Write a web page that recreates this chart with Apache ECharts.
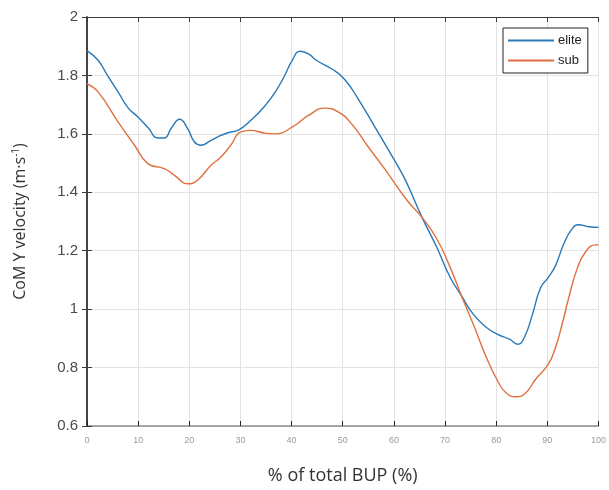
<!DOCTYPE html>
<html><head><meta charset="utf-8">
<script src="https://cdn.jsdelivr.net/npm/echarts@6/dist/echarts.min.js"></script>
<style>html,body{margin:0;padding:0;background:#fff}#c{width:609px;height:490px}</style>
</head><body><div id="c"></div>
<script>
var eliteX = [0,2.2,4,6.1,8,10,12,13.8,15.1,16.5,18.1,19.7,21,22.3,24,25.5,27.4,29.7,32,34.6,36.8,38.8,40.1,41.7,43.3,44.9,47.8,50.3,53,56.3,60.3,62.3,65.5,68.4,71,73.2,75.5,78.1,80.3,82.6,84.2,85.5,87.1,88.7,90.2,91.6,93.2,94.8,96.1,98.1,100];
var eliteY = [1.885,1.851,1.80,1.743,1.69,1.657,1.62,1.586,1.586,1.62,1.65,1.617,1.572,1.561,1.575,1.589,1.603,1.614,1.646,1.692,1.743,1.805,1.851,1.883,1.874,1.851,1.823,1.788,1.72,1.623,1.504,1.44,1.314,1.211,1.109,1.046,0.983,0.937,0.914,0.897,0.88,0.903,0.983,1.074,1.109,1.149,1.223,1.274,1.289,1.282,1.28];
var subX = [0,2.2,6.1,9.3,11.9,15.1,17.1,19.7,21.6,24.2,26.2,28.1,30,32,34.6,36.8,40.1,43.3,46.5,49.1,51.7,55,58.2,62.6,65.5,68.4,71,73.2,75.5,78.1,80.3,81.9,83.9,85.8,87.7,90.2,91.6,92.9,94.2,95.8,97.4,99.4,100];
var subY = [1.771,1.743,1.64,1.561,1.498,1.481,1.458,1.429,1.441,1.492,1.521,1.561,1.606,1.612,1.603,1.6,1.623,1.663,1.688,1.675,1.635,1.555,1.48,1.372,1.314,1.24,1.143,1.046,0.949,0.834,0.754,0.714,0.70,0.714,0.76,0.812,0.869,0.949,1.04,1.137,1.194,1.22,1.22];
var seriesNames = ['elite','sub'];
var xTitle = '% of total BUP (%)';

function pairs(xs, ys){ return xs.map(function(x,i){ return [x, ys[i]]; }); }

var chart = echarts.init(document.getElementById('c'), null, {renderer:'canvas'});
var axisCol = '#3a3a3a';
chart.setOption({
  animation:false,
  grid:{left:87, top:17, right:5, bottom:64, containLabel:false},
  legend:{
    orient:'vertical', left:503, top:28, data:seriesNames,
    itemWidth:46, itemHeight:2, itemGap:7,
    padding:[6,6,6,5],
    borderColor:'#222', borderWidth:1, backgroundColor:'#fff',
    textStyle:{fontSize:13, color:'#222', fontFamily:'Liberation Sans, Arial, sans-serif', padding:[0,0,0,-1]},
    icon:'rect'
  },
  xAxis:[{
    type:'value', min:0, max:100, interval:10, position:'bottom',
    name:xTitle, nameLocation:'middle', nameGap:41,
    nameTextStyle:{fontSize:18, color:'#333', fontFamily:'Open Sans, sans-serif'},
    axisLine:{show:true, lineStyle:{color:'#8a8a8a', width:1.5}},
    axisTick:{show:true, inside:true, length:5, lineStyle:{color:'#222'}},
    axisLabel:{fontSize:9, color:'#9a9a9a', margin:10, fontFamily:'Liberation Sans, Arial, sans-serif'},
    splitLine:{show:true, lineStyle:{color:'#e3e3e3', width:1}}
  },{
    type:'value', min:0, max:100, interval:10, position:'top',
    axisLine:{show:true, lineStyle:{color:axisCol, width:1}},
    axisTick:{show:true, inside:true, length:5, lineStyle:{color:axisCol}},
    axisLabel:{show:false}, splitLine:{show:false}
  }],
  yAxis:[{
    type:'value', min:0.6, max:2, interval:0.2, position:'left',
    name:'CoM Y velocity (m·s{sup|-1})', nameLocation:'middle', nameGap:57, nameRotate:90,
    nameTextStyle:{fontSize:16, color:'#333', fontFamily:'Open Sans, sans-serif',
      rich:{sup:{fontSize:10, verticalAlign:'top', padding:[0,0,9,0], color:'#333', fontFamily:'Open Sans, sans-serif'}}},
    axisLine:{show:true, lineStyle:{color:axisCol, width:1.5}},
    axisTick:{show:true, inside:true, length:5, lineStyle:{color:axisCol}},
    axisLabel:{fontSize:15, color:'#4a4a4a', margin:9, fontFamily:'Liberation Sans, Arial, sans-serif',
      formatter:function(v){ return String(+v.toFixed(1)); }},
    splitLine:{show:true, lineStyle:{color:'#e3e3e3', width:1}}
  },{
    type:'value', min:0.6, max:2, interval:0.2, position:'right',
    axisLine:{show:true, lineStyle:{color:axisCol, width:1.5}},
    axisTick:{show:true, inside:true, length:5, lineStyle:{color:axisCol}},
    axisLabel:{show:false}, splitLine:{show:false}
  }],
  series:[{
    name:seriesNames[0], type:'line', data:pairs(eliteX, eliteY), showSymbol:false, symbol:'none',
    smooth:0.5, lineStyle:{color:'#2878b8', width:1.4}, itemStyle:{color:'#2878b8'}
  },{
    name:seriesNames[1], type:'line', data:pairs(subX, subY), showSymbol:false, symbol:'none',
    smooth:0.5, lineStyle:{color:'#e0703f', width:1.4}, itemStyle:{color:'#e0703f'}
  }]
});
</script></body></html>
